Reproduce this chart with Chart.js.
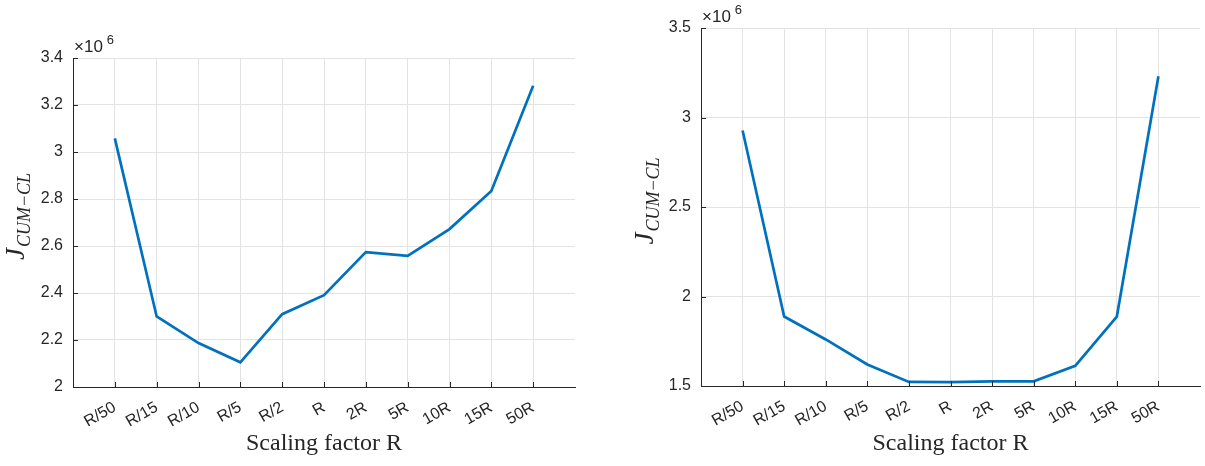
<!DOCTYPE html>
<html lang="en">
<head>
  <meta charset="UTF-8">
  <title>J_CUM-CL vs scaling factor R</title>
  <script src="https://cdn.jsdelivr.net/npm/chart.js"></script>
  <style>
    html, body { margin: 0; padding: 0; background: #fff; }
    .wrap { position: relative; width: 1205px; height: 466px; }
    #leftChart { position: absolute; left: 0; top: 0; }
    #rightChart { position: absolute; left: 600px; top: 0; }
  </style>
</head>
<body>
  <div class="wrap">
    <canvas id="leftChart" width="600" height="466"></canvas>
    <canvas id="rightChart" width="605" height="466"></canvas>
  </div>

  <script>
    // categories on the x axis
    const categories = ['R/50', 'R/15', 'R/10', 'R/5', 'R/2', 'R', '2R', '5R', '10R', '15R', '50R'];
    // values in units of 10^6
    const leftValues = [3.058, 2.300, 2.187, 2.105, 2.310, 2.391, 2.574, 2.558, 2.672, 2.834, 3.282];
    const rightValues = [2.927, 1.888, 1.760, 1.620, 1.523, 1.522, 1.526, 1.526, 1.613, 1.888, 3.230];
    // y tick values
    const leftTicks = [2, 2.2, 2.4, 2.6, 2.8, 3, 3.2, 3.4];
    const rightTicks = [1.5, 2, 2.5, 3, 3.5];

    const axisColor = '#262626';
    const gridColor = '#e3e3e3';
    const lineColor = '#0072BD';
    const sansFont = '"Liberation Sans", Arial, sans-serif';
    const serifFont = '"Liberation Serif", "DejaVu Serif", serif';

    // draws the inward tick marks, the x10^6 label and the y title with subscript
    const decorPlugin = {
      id: 'decor',
      afterDraw(chart, args, opts) {
        const ctx = chart.ctx;
        const area = chart.chartArea;
        const xs = chart.scales.x, ys = chart.scales.y;
        ctx.save();
        ctx.strokeStyle = axisColor;
        ctx.lineWidth = 1;
        ctx.beginPath();
        xs.ticks.forEach(t => {
          const px = Math.round(xs.getPixelForValue(t.value)) + 0.5;
          ctx.moveTo(px, area.bottom);
          ctx.lineTo(px, area.bottom - 5);
        });
        ys.ticks.forEach(t => {
          const py = Math.round(ys.getPixelForValue(t.value)) + 0.5;
          ctx.moveTo(area.left, py);
          ctx.lineTo(area.left + 5, py);
        });
        ctx.stroke();

        // exponent label
        ctx.fillStyle = axisColor;
        ctx.textBaseline = 'alphabetic';
        ctx.textAlign = 'left';
        ctx.font = '17px ' + sansFont;
        const ex = area.left + 1, ey = area.top - 6;
        ctx.fillText('\u00d710', ex, ey);
        const w = ctx.measureText('\u00d710').width;
        ctx.font = '13px ' + sansFont;
        ctx.fillText('6', ex + w + 4, ey - 8);

        // y title J_{CUM-CL}
        ctx.translate(opts.titleX, (area.top + area.bottom) / 2 + opts.titleShift);
        ctx.rotate(-Math.PI / 2);
        ctx.font = 'italic 27px ' + serifFont;
        const jw = ctx.measureText('J').width;
        ctx.font = 'italic 18px ' + serifFont;
        const sw = ctx.measureText('CUM\u2212CL').width;
        const total = jw + 1 + sw;
        ctx.font = 'italic 27px ' + serifFont;
        ctx.fillText('J', -total / 2, 0);
        ctx.font = 'italic 18px ' + serifFont;
        ctx.fillText('CUM\u2212CL', -total / 2 + jw + 1, 6);
        ctx.restore();
      }
    };

    function makeChart(id, values, yTicks, box) {
      const points = values.map((v, i) => ({ x: i + 1, y: v }));
      return new Chart(document.getElementById(id), {
        type: 'line',
        data: {
          datasets: [{
            data: points,
            borderColor: lineColor,
            borderWidth: 2.7,
            pointRadius: 0,
            tension: 0,
            fill: false
          }]
        },
        options: {
          responsive: false,
          animation: false,
          devicePixelRatio: 1,
          layout: { padding: { left: 0, top: box.top, right: box.right, bottom: 8 } },
          plugins: {
            legend: { display: false },
            tooltip: { enabled: false },
            decor: { titleX: box.titleX, titleShift: box.titleShift }
          },
          scales: {
            x: {
              type: 'linear',
              min: 0,
              max: categories.length + 1,
              afterBuildTicks(scale) {
                scale.ticks = categories.map((c, i) => ({ value: i + 1 }));
              },
              afterFit(scale) {
                scale.height = box.xHeight;
                scale.paddingLeft = 0;
                scale.paddingRight = 0;
              },
              ticks: {
                autoSkip: false,
                minRotation: 30,
                maxRotation: 30,
                padding: 11,
                color: axisColor,
                font: { family: sansFont, size: 16 },
                callback: (v) => categories[v - 1]
              },
              grid: { color: gridColor, drawTicks: false },
              border: { display: true, color: axisColor, width: 1 },
              title: {
                display: true,
                text: 'Scaling factor R',
                color: axisColor,
                font: { family: serifFont, size: 24 },
                padding: { top: 0, bottom: 0 }
              }
            },
            y: {
              min: yTicks[0],
              max: yTicks[yTicks.length - 1],
              afterBuildTicks(scale) {
                scale.ticks = yTicks.map(v => ({ value: v }));
              },
              afterFit(scale) {
                scale.width = box.left;
                scale.paddingTop = 0;
                scale.paddingBottom = 0;
              },
              ticks: {
                padding: 10,
                color: axisColor,
                font: { family: sansFont, size: 16 },
                callback: (v) => String(Number(v.toFixed(1)))
              },
              grid: { color: gridColor, drawTicks: false },
              border: { display: true, color: axisColor, width: 1 }
            }
          }
        },
        plugins: [decorPlugin]
      });
    }

    makeChart('leftChart', leftValues, leftTicks,
      { left: 73, top: 58, right: 25, xHeight: 71, titleX: 24, titleShift: -6 });
    makeChart('rightChart', rightValues, rightTicks,
      { left: 101, top: 28, right: 5, xHeight: 72, titleX: 53, titleShift: -6 });
  </script>
</body>
</html>
